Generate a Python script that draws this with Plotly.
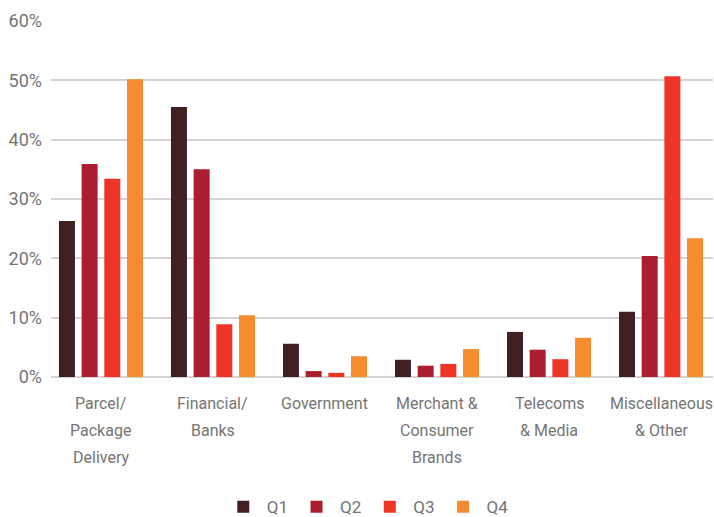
import plotly.graph_objects as go

categories = ["Parcel/ Package Delivery", "Financial/ Banks", "Government",
              "Merchant & Consumer Brands", "Telecoms & Media", "Miscellaneous & Other"]
category_lines = [["Parcel/", "Package", "Delivery"], ["Financial/", "Banks"], ["Government"],
                  ["Merchant &", "Consumer", "Brands"], ["Telecoms", "& Media"], ["Miscellaneous", "& Other"]]
series_names = ["Q1", "Q2", "Q3", "Q4"]
q1 = [26.3, 45.5, 5.6, 2.9, 7.6, 11.0]
q2 = [35.9, 35.0, 1.0, 1.9, 4.6, 20.4]
q3 = [33.4, 8.9, 0.7, 2.2, 3.0, 50.7]
q4 = [50.2, 10.4, 3.5, 4.7, 6.6, 23.4]
colors = ["#421f22", "#ab1e2f", "#ee3424", "#f68b2f"]
y_ticks = [0, 10, 20, 30, 40, 50, 60]
y_labels = ["0%", "10%", "20%", "30%", "40%", "50%", "60%"]

FONT = "Roboto, sans-serif"
GREY = "#757575"

fig = go.Figure()
for name, vals, c in zip(series_names, [q1, q2, q3, q4], colors):
    fig.add_trace(go.Bar(x=categories, y=vals, name=name, marker_color=c, marker_line_width=0))

for cat, lines in zip(categories, category_lines):
    for i, line in enumerate(lines):
        fig.add_annotation(x=cat, xref="x", y=0, yref="paper", yanchor="top",
                           text=line, showarrow=False, yshift=-15 - 27 * i,
                           font=dict(family=FONT, size=16, color=GREY))

fig.update_layout(
    width=714, height=517,
    margin=dict(l=51, r=1, t=21, b=140, autoexpand=False),
    paper_bgcolor="white", plot_bgcolor="white",
    barmode="group", bargap=0.19, bargroupgap=0.295,
    font=dict(family=FONT, size=18, color=GREY),
    showlegend=True,
    legend=dict(orientation="h", x=0.477, xanchor="center", yref="container",
                y=0.019, yanchor="middle",
                font=dict(family=FONT, size=17, color=GREY), traceorder="normal",
                itemwidth=37),
    xaxis=dict(showgrid=False, showline=False, ticks="", showticklabels=False,
               automargin=False, range=[-0.446, 5.464]),
    yaxis=dict(range=[0, 60], tickvals=y_ticks, ticktext=y_labels, showgrid=True,
               gridcolor="#d4d4d4", gridwidth=1.5, zeroline=True, zerolinecolor="#d4d4d4",
               zerolinewidth=1.5, showline=False, ticks="", ticklen=0, automargin=False,
               ticklabelstandoff=8, tickfont=dict(size=18), fixedrange=True),
)
fig.write_html("out.html", config={"displayModeBar": False},
               post_script="document.body.style.margin='0';")
